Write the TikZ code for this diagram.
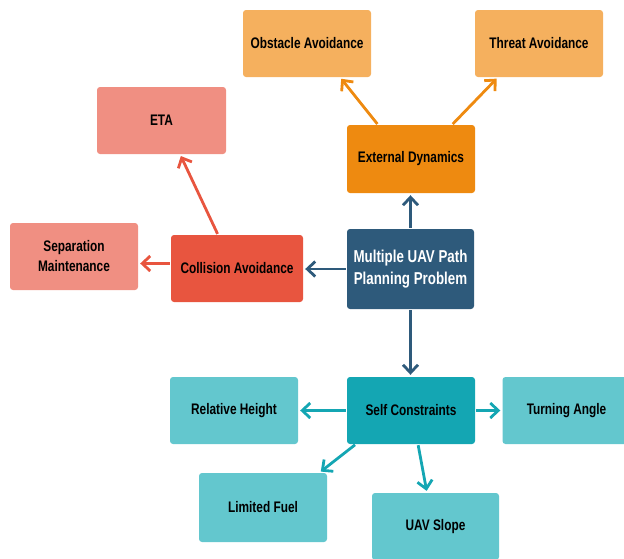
\documentclass[tikz,border=0pt]{standalone}
\usepackage{fontspec}
\setmainfont{Liberation Sans}[FakeStretch=0.775]
\usetikzlibrary{arrows.meta}
\definecolor{lorange}{HTML}{F5B05E}
\definecolor{dorange}{HTML}{EE8A10}
\definecolor{salmon}{HTML}{F08F82}
\definecolor{dred}{HTML}{E8553F}
\definecolor{navy}{HTML}{2E5A7B}
\definecolor{dteal}{HTML}{14A6B3}
\definecolor{lteal}{HTML}{63C7CE}
\tikzset{
  box/.style={rounded corners=3pt, inner sep=2pt, align=center, text=black,
    font=\fontsize{15.3}{20}\selectfont\bfseries},
  conn/.style={line width=2.8pt, -{Straight Barb[length=8pt,width=15pt,line width=2.8pt]}, shorten >=2pt, shorten <=1pt},
}
\begin{document}
\begin{tikzpicture}[x=1pt,y=-1pt]
\useasboundingbox (0,0) rectangle (624,558);
\begin{scope}
\clip (0,0) rectangle (624,558);
\node[box, fill=lorange, minimum width=128pt, minimum height=67pt] (obs) at (307,43.5) {Obstacle Avoidance};
\node[box, fill=lorange, minimum width=128pt, minimum height=67pt] (thr) at (539,43.5) {Threat Avoidance};
\node[box, fill=dorange, minimum width=128pt, minimum height=68pt] (ext) at (411,159) {External Dynamics};
\node[box, fill=salmon, minimum width=129pt, minimum height=67pt] (eta) at (161.5,120.5) {ETA};
\node[box, fill=salmon, minimum width=128pt, minimum height=67pt] (sep) at (74,256.5) {Separation\\Maintenance};
\node[box, fill=dred, minimum width=132pt, minimum height=67pt] (col) at (237,268.5) {Collision Avoidance};
\node[box, fill=navy, text=white, minimum width=127pt, minimum height=80pt, font=\fontsize{17.2}{22}\selectfont\bfseries] (muav) at (410.5,269) {Multiple UAV Path\\Planning Problem};
\node[box, fill=dteal, minimum width=128pt, minimum height=67pt] (self) at (411,410.5) {Self Constraints};
\node[box, fill=lteal, minimum width=128pt, minimum height=67pt] (rel) at (234,410.5) {Relative Height};
\node[box, fill=lteal, minimum width=128pt, minimum height=67pt] (turn) at (566.5,410.5) {Turning Angle};
\node[box, fill=lteal, minimum width=128pt, minimum height=69pt] (fuel) at (263,507.5) {Limited Fuel};
\node[box, fill=lteal, minimum width=127pt, minimum height=67pt] (slope) at (435.5,526.5) {UAV Slope};
\end{scope}
% connectors
\draw[conn, draw=dorange] ([xshift=-33pt]ext.north) -- ([xshift=33pt]obs.south);
\draw[conn, draw=dorange] ([xshift=41pt]ext.north) -- ([xshift=-41pt]thr.south);
\draw[conn, draw=dred] ([xshift=-19pt]col.north) -- ([xshift=18.5pt]eta.south);
\draw[conn, draw=dred] ([yshift=5pt]col.west) -- ([yshift=5pt]col.west -| sep.east);
\draw[conn, draw=navy] (muav.north) -- (muav.north |- ext.south);
\draw[conn, draw=navy] (muav.west) -- (muav.west -| col.east);
\draw[conn, draw=navy] (muav.south) -- (muav.south |- self.north);
\draw[conn, draw=dteal] (self.west) -- (rel.east);
\draw[conn, draw=dteal] (self.east) -- (turn.west);
\draw[conn, draw=dteal] ([xshift=9pt]self.south west) -- ([xshift=-8pt]fuel.north east);
\draw[conn, draw=dteal] ([xshift=7pt]self.south) -- ([xshift=-8.5pt]slope.north);
\end{tikzpicture}
\end{document}
